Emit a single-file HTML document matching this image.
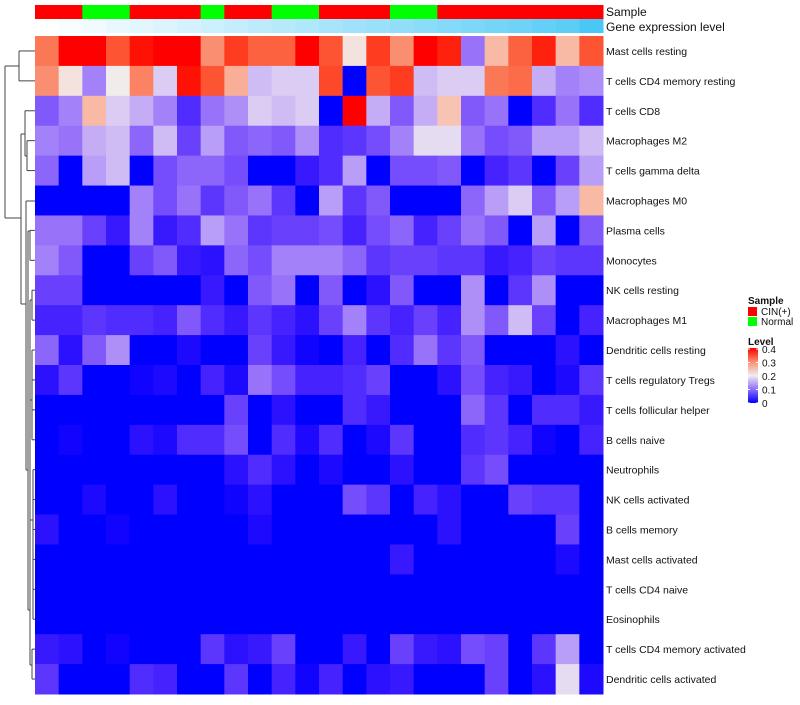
<!DOCTYPE html>
<html><head><meta charset="utf-8"><style>
body{margin:0;background:#fff;width:800px;height:700px;overflow:hidden;font-family:"Liberation Sans",sans-serif}
</style></head><body>
<svg id="chart" width="800" height="700" xmlns="http://www.w3.org/2000/svg" style="font-family:'Liberation Sans',sans-serif"></svg>
<script>
const rowLabels = ["Mast cells resting","T cells CD4 memory resting","T cells CD8","Macrophages M2","T cells gamma delta","Macrophages M0","Plasma cells","Monocytes","NK cells resting","Macrophages M1","Dendritic cells resting","T cells regulatory  Tregs","T cells follicular helper","B cells naive","Neutrophils","NK cells activated","B cells memory","Mast cells activated","T cells CD4 naive","Eosinophils","T cells CD4 memory activated","Dendritic cells activated"];
const sampleGroups = ["CIN","CIN","Normal","Normal","CIN","CIN","CIN","Normal","CIN","CIN","Normal","Normal","CIN","CIN","CIN","Normal","Normal","CIN","CIN","CIN","CIN","CIN","CIN","CIN"];
const geneLevel = [0,0.04,0.08,0.12,0.16,0.2,0.24,0.28,0.32,0.36,0.4,0.44,0.48,0.52,0.56,0.6,0.64,0.68,0.72,0.76,0.8,0.85,0.9,1];
const values = [
[.31,.4,.4,.34,.39,.4,.4,.29,.36,.33,.33,.4,.34,.21,.36,.29,.4,.38,.12,.25,.33,.38,.25,.34],
[.29,.21,.13,.2,.3,.18,.39,.34,.26,.17,.18,.18,.35,0,.34,.36,.17,.18,.18,.31,.32,.16,.13,.14],
[.1,.13,.25,.18,.16,.13,.06,.12,.14,.18,.17,.18,0,.4,.16,.1,.16,.24,.1,.12,0,.06,.12,.06],
[.13,.12,.16,.17,.11,.17,.08,.15,.1,.11,.1,.14,.06,.07,.09,.13,.19,.19,.12,.09,.1,.15,.15,.17],
[.11,0,.15,.17,0,.09,.11,.11,.09,0,0,.04,.06,.15,0,.09,.09,.1,0,.05,.07,0,.08,.15],
[0,0,0,0,.13,.09,.12,.07,.1,.12,.07,0,.15,.07,.1,0,0,0,.11,.15,.18,.1,.15,.25],
[.12,.12,.08,.04,.13,.04,.06,.15,.12,.07,.08,.08,.09,.05,.09,.11,.05,.08,.12,.1,0,.15,0,.1],
[.13,.1,0,0,.08,.1,.04,.03,.11,.09,.13,.13,.13,.11,.07,.08,.08,.07,.07,.04,.05,.08,.07,.07],
[.08,.08,0,0,0,0,0,.04,0,.1,.12,0,.1,0,.03,.1,0,0,.14,0,.07,.14,0,0],
[.05,.05,.07,.06,.06,.05,.1,.06,.04,.07,.05,.03,.08,.13,.07,.05,.08,.05,.14,.1,.17,.08,0,.05],
[.11,.03,.1,.14,0,0,.02,0,0,.08,.04,.01,0,.05,0,.06,.12,.07,.1,0,0,0,.03,0],
[.03,.07,0,0,.01,.02,0,.05,.02,.12,.09,.05,.05,.06,.08,0,0,.03,.09,.05,.04,0,.02,.07],
[0,0,0,0,0,0,0,0,.08,0,.03,0,0,.06,.04,0,0,0,.11,.07,0,.06,.06,.04],
[0,.01,0,0,.03,.02,.06,.06,.09,0,.06,.02,.06,0,.02,.07,0,0,.06,.07,.05,.01,0,.05],
[0,0,0,0,0,0,0,0,.03,.06,.03,0,.02,0,0,.03,0,0,.07,.09,0,0,0,0],
[0,0,.02,0,0,.03,0,0,.01,.03,0,0,0,.09,.07,0,.05,.03,0,0,.08,.07,.07,0],
[.03,0,0,.01,0,0,0,0,0,.02,0,0,0,0,0,0,0,.03,0,0,0,0,.08,0],
[0,0,0,0,0,0,0,0,0,0,0,0,0,0,0,.04,0,0,0,0,0,0,.02,0],
[0,0,0,0,0,0,0,0,0,0,0,0,0,0,0,0,0,0,0,0,0,0,0,0],
[0,0,0,0,0,0,0,0,0,0,0,0,0,0,0,0,0,0,0,0,0,0,0,0],
[.04,.03,0,.01,0,0,0,.07,.03,.04,.08,0,0,.04,0,.08,.04,.03,.09,.08,0,.07,.15,0],
[.07,0,0,0,.06,.05,0,0,.07,0,.05,.01,.05,0,.03,.04,0,0,0,.08,0,.03,.19,.02]
];
const legendTicks = ["0.4","0.3","0.2","0.1","0"];

const NS="http://www.w3.org/2000/svg";
const svg=document.getElementById('chart');
const X0=35,X1=603,Y0=36,Y1=694;
const nC=values[0].length,nR=values.length;
const cw=(X1-X0)/nC,rh=(Y1-Y0)/nR;
const xPos=c=>X0+c*cw, yPos=r=>Y0+r*rh;
function mk(t,a){const e=document.createElementNS(NS,t);for(const k in a)e.setAttribute(k,a[k]);svg.appendChild(e);return e;}
function col(v){v=Math.max(0,Math.min(0.4,v));let r,g,b;
 if(v<0.2){const t=v/0.2;r=Math.round(240*Math.pow(t,0.9));g=Math.round(236*Math.pow(t,1.4));b=Math.round(255-15*t*t);}
 else{const t=(v-0.2)/0.2;r=Math.round(240+15*Math.sqrt(t));g=Math.round(236*Math.pow(1-t,0.85));b=Math.round(236*Math.pow(1-t,1.25));}
 return `rgb(${r},${g},${b})`;}
for(let r=0;r<nR;r++)for(let c=0;c<nC;c++){
 const e=mk('rect',{x:xPos(c),y:yPos(r),width:cw+0.5,height:rh+0.5,fill:col(values[r][c])});
 
 
}
for(let c=0;c<nC;c++){
 const s=mk('rect',{x:xPos(c),y:5,width:cw+0.5,height:14,fill:sampleGroups[c]==='CIN'?'#ff0000':'#00ff00'});
 
 
 const g=geneLevel[c];
 const gcol=`rgb(${Math.round(255-181*g)},${Math.round(255-55*g)},${Math.round(255-10*g)})`;
 const ge=mk('rect',{x:xPos(c),y:19,width:cw+0.5,height:14,fill:gcol});
 
 
}
function txt(x,y,s,sz,w,name){const t=mk('text',{x:x,y:y,'font-size':sz,fill:'#111','font-weight':w||'normal'});t.textContent=s;
 
 return t;}
txt(606,16,"Sample",12,null,'sample-annotation-label');
txt(606,31,"Gene expression level",12,null,'gene-expression-annotation-label');
rowLabels.forEach((l,i)=>txt(606,yPos(i)+rh/2+4,l,10.5,null,'row-label'));
const yc=i=>yPos(i)+rh/2;
const segs=[
[5,66,5,218],[5,66,19,66],[5,218,21,218],
[19,yc(0),19,yc(1)],[19,yc(0),35,yc(0)],[19,yc(1),35,yc(1)],
[21,134,21,304],[21,134,25,134],[25,yc(2),25,156],[25,yc(2),35,yc(2)],[25,156,27,156],[27,yc(3),27,yc(4)],[27,yc(3),35,yc(3)],[27,yc(4),35,yc(4)],
[21,304,26,304],[26,201,26,470],[26,201,35,201],[26,470,28,470],
[28,231,28,610],[28,231,30,231],[30,yc(6),30,yc(7)],[30,yc(6),35,yc(6)],[30,yc(7),35,yc(7)],
[28,610,30,610],[30,300,30,665],[30,300,32,300],[32,yc(8),32,yc(9)],[32,yc(8),35,yc(8)],[32,yc(9),35,yc(9)],
[30,665,32,665],[32,yc(20),32,yc(21)],[32,yc(20),35,yc(20)],[32,yc(21),35,yc(21)],
[30,400,32,400],[32,yc(10),32,yc(13)],[32,yc(10),35,yc(10)],[32,yc(11),35,yc(11)],[32,yc(12),35,yc(12)],[32,yc(13),35,yc(13)],
[30,520,33,520],[33,yc(14),33,yc(19)],[33,yc(14),35,yc(14)],[33,yc(15),35,yc(15)],[33,yc(16),35,yc(16)],[33,yc(17),35,yc(17)],[33,yc(18),35,yc(18)],[33,yc(19),35,yc(19)]
];
segs.forEach(s=>{const l=mk('line',{x1:s[0],y1:s[1],x2:s[2],y2:s[3],stroke:'#444','stroke-width':1});
 
 });
txt(748,304,"Sample",10,'bold','sample-legend-title');
[["CIN(+)","#ff0000"],["Normal","#00ff00"]].forEach((d,i)=>{
 const r=mk('rect',{x:748,y:307+i*10,width:9,height:9,fill:d[1]});
 
 
 txt(761,315+i*10,d[0],10,null,'sample-legend-entry');});
txt(748,345,"Level",10,'bold','level-legend-title');
const defs=mk('defs',{});
const lg=document.createElementNS(NS,'linearGradient');lg.setAttribute('id','lg');lg.setAttribute('x1','0');lg.setAttribute('y1','1');lg.setAttribute('x2','0');lg.setAttribute('y2','0');
[[0,'#0000ff'],[0.25,'#8f6ff8'],[0.5,'#f0ecf0'],[0.75,'#fa8f70'],[1,'#ff0000']].forEach(s=>{const st=document.createElementNS(NS,'stop');st.setAttribute('offset',s[0]);st.setAttribute('stop-color',s[1]);lg.appendChild(st);});
defs.appendChild(lg);
const cb=mk('rect',{x:748,y:348,width:10,height:55,fill:'url(#lg)'});


legendTicks.forEach((t,i)=>{const y=349+i*13.5;
 mk('line',{x1:748,y1:y,x2:750,y2:y,stroke:'#fff'});mk('line',{x1:756,y1:y,x2:758,y2:y,stroke:'#fff'});
 txt(762,y+4,t,10,null,'level-legend-tick');});
</script>
</body></html>
